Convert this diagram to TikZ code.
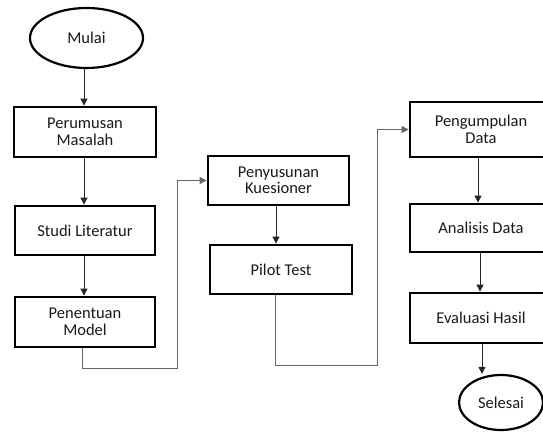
\documentclass[tikz,border=0pt]{standalone}
\usepackage{fontspec}
\setmainfont{Carlito}
\usetikzlibrary{arrows.meta,shapes.geometric}
\begin{document}
\begin{tikzpicture}[x=1pt,y=-1pt,
  every node/.style={font=\fontsize{16.5}{16.5}\selectfont, text=black!90, align=center},
  procbox/.style={draw, line width=2.8pt, minimum width=140pt, minimum height=49pt, inner sep=0pt},
  termnode/.style={draw, ellipse, line width=2.2pt, inner sep=0pt},
  arr/.style={draw=black!85, line width=0.9pt, -{Triangle[length=7pt,width=7pt]}},
  loop/.style={draw=black!60, line width=1pt, -{Triangle[length=7pt,width=7pt]}}
]
\useasboundingbox (0,0) rectangle (543,435);
\clip (0,0) rectangle (543,435);
\node[termnode, minimum width=113pt, minimum height=60pt] (mulai) at (86.5,38) {Mulai};
\node[procbox, minimum width=142pt, minimum height=50pt] (perumusan) at (85,132) {Perumusan\\Masalah};
\node[procbox] (studi) at (85,230.5) {Studi Literatur};
\node[procbox, minimum height=50pt] (penentuan) at (85,322) {Penentuan\\Model};
\node[procbox, minimum width=141pt] (penyusunan) at (278.5,180.5) {Penyusunan\\Kuesioner};
\node[procbox, minimum width=142pt] (pilot) at (281,269.5) {Pilot Test};
\node[procbox, minimum width=142pt, minimum height=55pt] (pengumpulan) at (481,129.5) {Pengumpulan\\Data};
\node[procbox, minimum width=142pt, minimum height=48pt] (analisis) at (481,228) {Analisis Data};
\node[procbox, minimum width=142pt, minimum height=50pt] (evaluasi) at (481,318) {Evaluasi Hasil};
\node[termnode, minimum width=84pt, minimum height=55pt] (selesai) at (501,402.5) {Selesai};

\coordinate (c1) at (177,368);
\coordinate (c2) at (377,365);

\draw[arr] (mulai.south -| 84,0) -- (perumusan.north -| 84,0);
\draw[arr] (perumusan.south -| 84,0) -- (studi.north -| 84,0);
\draw[arr] (studi.south -| 84,0) -- (penentuan.north -| 84,0);
\draw[loop] (penentuan.south -| 82,0) |- (c1) |- (penyusunan.west);
\draw[arr] (penyusunan.south -| 276,0) -- (pilot.north -| 276,0);
\draw[loop] (pilot.south -| 275,0) |- (c2) |- (pengumpulan.west);
\draw[arr] (pengumpulan.south -| 478,0) -- (analisis.north -| 478,0);
\draw[arr] (analisis.south -| 480,0) -- (evaluasi.north -| 480,0);
\draw[arr] (evaluasi.south -| 482,0) -- (selesai.north -| 482,0);
\end{tikzpicture}
\end{document}
